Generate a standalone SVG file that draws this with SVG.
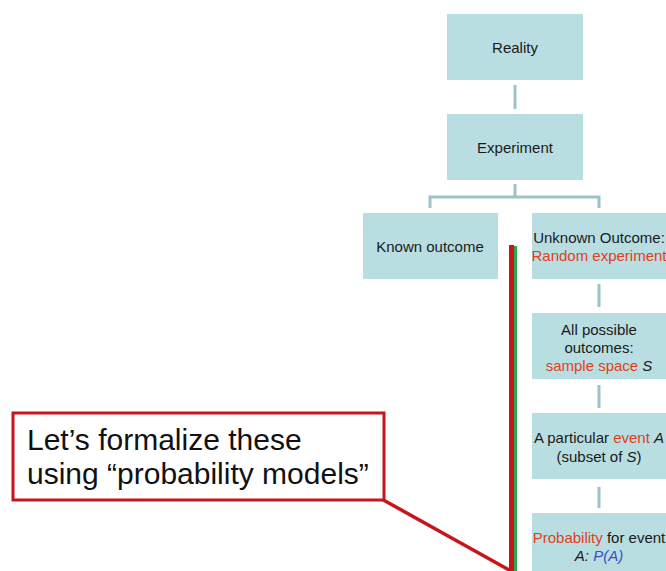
<svg xmlns="http://www.w3.org/2000/svg" width="666" height="571" viewBox="0 0 666 571">
<style>
.box{fill:#b9dee2}
.t{font-family:"Liberation Sans",Arial,sans-serif;font-size:15px;fill:#1a1a1a;text-anchor:middle}
.r{fill:#e0401c}
.b{fill:#3a4fc0}
.i{font-style:italic}
.con{stroke:#9cc4c8;stroke-width:3;fill:none}
.big{font-family:"Liberation Sans",Arial,sans-serif;font-size:30px;fill:#111}
</style>
<rect width="666" height="571" fill="#fff"/>
<g id="connectors">
<path class="con" d="M515 85V109"/>
<path class="con" d="M515 184V197M430 208V197H599V208"/>
<path class="con" d="M599 284V307"/>
<path class="con" d="M599 385V408"/>
<path class="con" d="M599 487V508"/>
</g>
<g id="reality"><rect class="box" x="447" y="14" width="136" height="66"/><text class="t" x="515" y="53">Reality</text></g>
<g id="experiment"><rect class="box" x="447" y="114" width="136" height="66"/><text class="t" x="515" y="153">Experiment</text></g>
<g id="known"><rect class="box" x="363" y="213" width="135" height="66"/><text class="t" x="430" y="252">Known outcome</text></g>
<g id="unknown"><rect class="box" x="532" y="213" width="140" height="66"/><text class="t" x="599" y="243">Unknown Outcome:</text><text class="t r" x="599" y="261">Random experiment</text></g>
<g id="sample"><rect class="box" x="532" y="313" width="140" height="66"/><text class="t" x="599" y="335">All possible</text><text class="t" x="599" y="353">outcomes:</text><text class="t" x="599" y="371"><tspan class="r">sample space</tspan> <tspan class="i">S</tspan></text></g>
<g id="event"><rect class="box" x="532" y="413" width="140" height="66"/><text class="t" x="599" y="443">A particular <tspan class="r">event</tspan> <tspan class="i">A</tspan></text><text class="t" x="599" y="462">(subset of <tspan class="i">S</tspan>)</text></g>
<g id="probability"><rect class="box" x="532" y="513" width="140" height="66"/><text class="t" x="599" y="543"><tspan class="r">Probability</tspan> for event</text><text class="t i" x="599" y="561">A: <tspan class="b">P(A)</tspan></text></g>
<g id="bar">
<rect x="514" y="246" width="3" height="325" fill="#2aa84a"/>
<rect x="509" y="245" width="5" height="326" fill="#c8151b"/>
</g>
<g id="callout">
<line x1="378" y1="497" x2="511" y2="571" stroke="#c8151b" stroke-width="3.5"/>
<rect x="13" y="413" width="371" height="87" fill="#fff" stroke="#c8151b" stroke-width="3"/>
<text class="big" x="27" y="450">Let’s formalize these</text>
<text class="big" x="27" y="484">using “probability models”</text>
</g>
</svg>
